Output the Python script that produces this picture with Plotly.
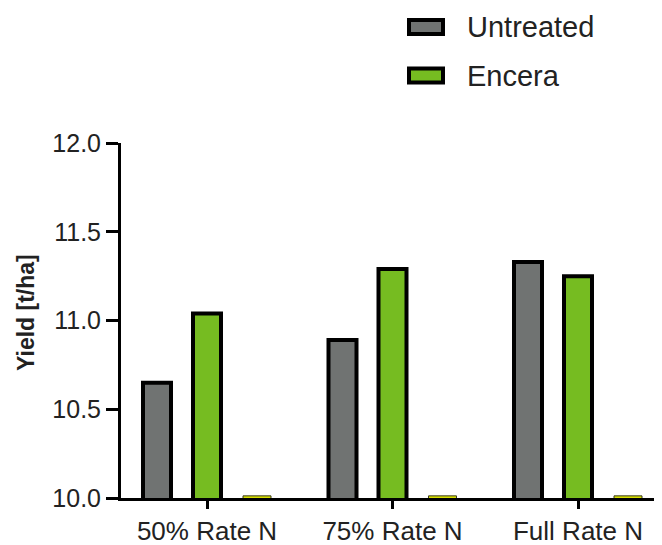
import plotly.graph_objects as go

categories = ["50% Rate N", "75% Rate N", "Full Rate N"]
series_names = ["Untreated", "Encera"]
untreated = [10.65, 10.89, 11.33]
encera = [11.04, 11.29, 11.25]
third = [10.012, 10.012, 10.012]
y_ticks = [10.0, 10.5, 11.0, 11.5, 12.0]
y_tick_labels = ["10.0", "10.5", "11.0", "11.5", "12.0"]
y_title = "Yield [t/ha]"

FONT = "Liberation Sans"
colors = ["#707372", "#76bc21"]

# page body has an 8px default margin -> compensate
OFF = 8
W, H = 662 - OFF, 545 - OFF
left, top, plot_h = 121 - OFF, 143 - OFF, 355
plot_w = W - left

fig = go.Figure()
fig.add_trace(go.Bar(name=series_names[0], x=categories, y=untreated, showlegend=False,
                     marker=dict(color=colors[0], line=dict(color="black", width=4))))
fig.add_trace(go.Bar(name=series_names[1], x=categories, y=encera, showlegend=False,
                     marker=dict(color=colors[1], line=dict(color="black", width=4))))
fig.add_trace(go.Bar(name="", x=categories, y=third, showlegend=False,
                     marker=dict(color="#d8e000", line=dict(color="#3a3a20", width=1))))

# custom legend (large swatches like the reference); args are screen pixels
def px_x(p):
    return (p - OFF - left) / plot_w
def px_y(p):
    return (top + plot_h - (p - OFF)) / plot_h

legend_rows = [27, 75.5]
for name, col, yc in zip(series_names, colors, legend_rows):
    fig.add_shape(type="rect", xref="paper", yref="paper",
                  x0=px_x(409), x1=px_x(443), y0=px_y(yc - 7), y1=px_y(yc + 7),
                  fillcolor=col, line=dict(color="black", width=4))
    fig.add_annotation(text=name, xref="paper", yref="paper",
                       x=px_x(465), y=px_y(yc), xanchor="left", yanchor="middle",
                       showarrow=False, font=dict(size=29, family=FONT, color="#222222"))

# y-axis title
fig.add_annotation(text="<b>" + y_title + "</b>", xref="paper", yref="paper",
                   x=px_x(26), y=px_y(313), xanchor="center", yanchor="middle",
                   textangle=-90, showarrow=False,
                   font=dict(size=23, family=FONT, color="#222222"))

# category centers at screen x 207, 393, 578 (185.5 px per category)
cat_px = 185.5
r0 = -(207 - 121) / cat_px
r1 = r0 + (662 - 121) / cat_px

fig.update_layout(
    width=W, height=H,
    margin=dict(l=left, r=0, t=top, b=H - top - plot_h, autoexpand=False),
    paper_bgcolor="white", plot_bgcolor="white",
    barmode="group", bargap=0.1914, bargroupgap=0.44,
    font=dict(family=FONT, color="#222222"),
    showlegend=False,
    xaxis=dict(type="category", range=[r0, r1],
               showline=True, linecolor="black", linewidth=3,
               ticks="outside", ticklen=8, tickwidth=3, tickcolor="black",
               tickfont=dict(size=26, family=FONT, color="#222222"),
               showgrid=False, zeroline=False),
    yaxis=dict(range=[10, 12], tickvals=y_ticks, ticktext=y_tick_labels,
               showline=True, linecolor="black", linewidth=3,
               ticks="outside", ticklen=12, tickwidth=3, tickcolor="black",
               tickfont=dict(size=25, family=FONT, color="#222222"),
               showgrid=False, zeroline=False),
)

fig.write_html("out.html")
